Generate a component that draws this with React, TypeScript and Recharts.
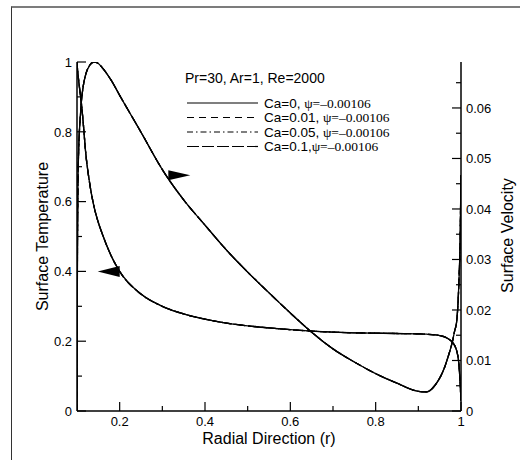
import React from "react";
import { LineChart, Line, XAxis, YAxis, ReferenceDot } from "recharts";

// ---- data ----
const radius = [
  0.1, 0.1005, 0.102, 0.104, 0.106, 0.108, 0.11, 0.115, 0.12, 0.13, 0.14, 0.15, 0.16, 0.18, 0.2,
  0.25, 0.3, 0.35, 0.4, 0.45, 0.5, 0.55, 0.6, 0.65, 0.7, 0.75, 0.8, 0.85, 0.9, 0.92, 0.94, 0.95,
  0.96, 0.97, 0.98, 0.985, 0.99, 0.995, 0.998, 1.0,
];
const surfaceTemperature = [
  1.0, 0.99, 0.97, 0.945, 0.925, 0.905, 0.885, 0.82, 0.745, 0.65, 0.585, 0.54, 0.505, 0.445, 0.4,
  0.335, 0.3, 0.278, 0.263, 0.252, 0.244, 0.238, 0.233, 0.229, 0.226, 0.224, 0.223, 0.222, 0.221, 0.22,
  0.218, 0.216, 0.213, 0.207, 0.197, 0.188, 0.172, 0.135, 0.08, 0.03,
];
const surfaceVelocity = [
  0, 0.02, 0.043, 0.052, 0.056, 0.0585, 0.061, 0.0645, 0.0665, 0.0685, 0.0691, 0.0688, 0.0679, 0.0655,
  0.0625, 0.0552, 0.0478, 0.0418, 0.0368, 0.0319, 0.0275, 0.0234, 0.0194, 0.0156, 0.0123, 0.0097,
  0.0074, 0.0055, 0.0039, 0.0038, 0.0052, 0.0065, 0.0083, 0.0108, 0.0138, 0.0158, 0.0178, 0.0253,
  0.034, 0.0467,
];

const caseLabels = ["Ca=0, ", "Ca=0.01, ", "Ca=0.05, ", "Ca=0.1,"];
const psiLabel = "\u03c8=\u20130.00106";
const caseDashes = ["", "7 5", "6 3 1.5 3", "12 3"];
const titleText = "Pr=30, Ar=1, Re=2000";

const xMajorTicks = [0.2, 0.4, 0.6, 0.8, 1];
const xMinorTicks = [0.3, 0.5, 0.7, 0.9];
const leftMajorTicks = [0, 0.2, 0.4, 0.6, 0.8, 1];
const leftMinorTicks = [0.1, 0.3, 0.5, 0.7, 0.9];
const rightMajorTicks = [0, 0.01, 0.02, 0.03, 0.04, 0.05, 0.06];
const rightMinorTicks = [0.005, 0.015, 0.025, 0.035, 0.045, 0.055, 0.065];

const arrowMarks = [
  { r: 0.2, value: 0.4, axis: "left", dir: "left" },
  { r: 0.314, value: 0.0467, axis: "right", dir: "right" },
];

const data = radius.map((r, i) => ({ r, T: surfaceTemperature[i], V: surfaceVelocity[i] }));

const SANS = "'Liberation Sans', Arial, sans-serif";
const SERIF = "'Liberation Serif', 'Times New Roman', serif";

const sortNum = (a: number[]) => [...a].sort((p, q) => p - q);

const XTick = (props: any) => {
  const { x, y, payload } = props;
  const v = payload.value;
  const major = xMajorTicks.includes(v);
  return (
    <g>
      <line x1={x} y1={y} x2={x} y2={y - (major ? 9 : 5)} stroke="#000" strokeWidth={1.2} />
      {major && (
        <text x={x} y={y + 15} textAnchor="middle" fontSize={13} fontFamily={SANS} fill="#000">
          {String(v)}
        </text>
      )}
    </g>
  );
};

const LeftTick = (props: any) => {
  const { x, y, payload } = props;
  const v = payload.value;
  const major = leftMajorTicks.includes(v);
  return (
    <g>
      <line x1={x} y1={y} x2={x + (major ? 9 : 5)} y2={y} stroke="#000" strokeWidth={1.2} />
      {major && (
        <text x={x - 5} y={y + 4.7} textAnchor="end" fontSize={13} fontFamily={SANS} fill="#000">
          {String(v)}
        </text>
      )}
    </g>
  );
};

const RightTick = (props: any) => {
  const { x, y, payload } = props;
  const v = payload.value;
  const major = rightMajorTicks.includes(v);
  return (
    <g>
      <line x1={x} y1={y} x2={x - (major ? 9 : 5)} y2={y} stroke="#000" strokeWidth={1.2} />
      {major && (
        <text x={x + 5} y={y + 4.7} textAnchor="start" fontSize={13} fontFamily={SANS} fill="#000">
          {String(v)}
        </text>
      )}
    </g>
  );
};

const makeArrow = (dir: string) => (props: any) => {
  const { cx, cy } = props;
  const d =
    dir === "left"
      ? `M${cx},${cy - 5.5} L${cx},${cy + 5.5} L${cx - 22},${cy} Z`
      : `M${cx},${cy - 5} L${cx},${cy + 5} L${cx + 22},${cy} Z`;
  return <path d={d} fill="#000" stroke="none" />;
};

export default function App() {
  return (
    <div
      style={{
        position: "fixed",
        left: 0,
        top: 0,
        width: 520,
        height: 460,
        overflow: "hidden",
        background: "#fff",
      }}
    >
      <div
        style={{
          position: "absolute",
          left: 11,
          top: 6,
          width: 700,
          height: 700,
          borderTop: "2px solid #7c7c7c",
          borderLeft: "1px solid #333",
        }}
      />
      <div style={{ position: "absolute", left: 0, top: 0 }}>
        <LineChart width={520} height={460} data={data} margin={{ top: 62, right: 0, bottom: 0, left: 0 }}>
          <XAxis
            dataKey="r"
            type="number"
            domain={[0.1, 1]}
            allowDataOverflow
            ticks={sortNum([...xMajorTicks, ...xMinorTicks])}
            interval={0}
            tickSize={0}
            tickMargin={0}
            tickLine={false}
            tick={<XTick />}
            axisLine={{ stroke: "#000", strokeWidth: 1.5 }}
            height={49}
          />
          <YAxis
            yAxisId="left"
            orientation="left"
            type="number"
            domain={[0, 1]}
            allowDataOverflow
            ticks={sortNum([...leftMajorTicks, ...leftMinorTicks])}
            interval={0}
            tickSize={0}
            tickMargin={0}
            tickLine={false}
            tick={<LeftTick />}
            axisLine={{ stroke: "#000", strokeWidth: 1.5 }}
            width={77}
          />
          <YAxis
            yAxisId="right"
            orientation="right"
            type="number"
            domain={[0, 0.0691]}
            allowDataOverflow
            ticks={sortNum([...rightMajorTicks, ...rightMinorTicks])}
            interval={0}
            tickSize={0}
            tickMargin={0}
            tickLine={false}
            tick={<RightTick />}
            axisLine={{ stroke: "#000", strokeWidth: 1.5 }}
            width={59}
          />
          {caseDashes.map((dash, i) => (
            <Line
              key={`T${i}`}
              yAxisId="left"
              type="monotone"
              dataKey="T"
              stroke="#000"
              strokeWidth={1.3}
              strokeDasharray={dash || undefined}
              dot={false}
              activeDot={false}
              isAnimationActive={false}
            />
          ))}
          {caseDashes.map((dash, i) => (
            <Line
              key={`V${i}`}
              yAxisId="right"
              type="monotone"
              dataKey="V"
              stroke="#000"
              strokeWidth={1.3}
              strokeDasharray={dash || undefined}
              dot={false}
              activeDot={false}
              isAnimationActive={false}
            />
          ))}
          {arrowMarks.map((a, i) => (
            <ReferenceDot
              key={`arrow${i}`}
              x={a.r}
              y={a.value}
              yAxisId={a.axis}
              r={0}
              shape={makeArrow(a.dir)}
              ifOverflow="visible"
            />
          ))}
        </LineChart>
      </div>
      <svg
        width={520}
        height={460}
        style={{ position: "absolute", left: 0, top: 0, pointerEvents: "none" }}
      >
        <text x={185} y={83} fontSize={14} fontFamily={SANS} fill="#000">
          {titleText}
        </text>
        {caseLabels.map((lab, i) => {
          const cy = 103 + i * 14.5;
          return (
            <g key={lab}>
              <line
                x1={187}
                y1={cy}
                x2={258}
                y2={cy}
                stroke="#000"
                strokeWidth={1.2}
                strokeDasharray={caseDashes[i] || undefined}
              />
              <text x={264} y={cy + 4.7} fontSize={13.5} fill="#000" style={{ whiteSpace: "pre" }}>
                <tspan fontFamily={SANS}>{lab}</tspan>
                <tspan fontFamily={SERIF}>{psiLabel}</tspan>
              </text>
            </g>
          );
        })}
        <text x={269} y={443.5} textAnchor="middle" fontSize={16} fontFamily={SANS} fill="#000">
          Radial Direction (r)
        </text>
        <text
          x={42}
          y={236.5}
          dy={5.7}
          transform="rotate(-90 42 236.5)"
          textAnchor="middle"
          fontSize={16}
          fontFamily={SANS}
          fill="#000"
        >
          Surface Temperature
        </text>
        <text
          x={507.5}
          y={235.5}
          dy={5.7}
          transform="rotate(-90 507.5 235.5)"
          textAnchor="middle"
          fontSize={16}
          fontFamily={SANS}
          fill="#000"
        >
          Surface Velocity
        </text>
      </svg>
    </div>
  );
}
